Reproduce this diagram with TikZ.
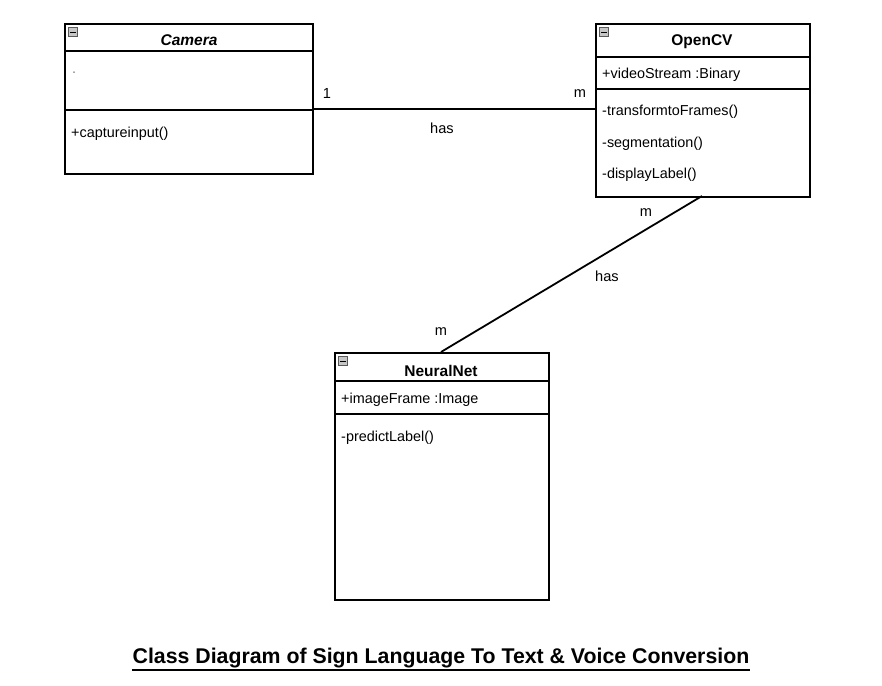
\documentclass[tikz,border=0pt]{standalone}
\usepackage{fontspec}
\setmainfont{Liberation Sans}
\begin{document}
\begin{tikzpicture}[x=1pt,y=-1pt,
  classbox/.style={draw=black,line width=2pt,fill=white,inner sep=0pt,anchor=north west},
  sep/.style={draw=black,line width=2pt},
  member/.style={anchor=west,inner sep=0pt,font=\fontsize{14.4}{17}\selectfont},
  cname/.style={inner sep=0pt,font=\fontsize{15.5}{18}\selectfont\bfseries},
  lbl/.style={inner sep=0pt,font=\fontsize{14.6}{17}\selectfont},
  conn/.style={draw=black,line width=1.8pt},
  mini/.style={draw=gray!70!black,fill=gray!45,line width=0.5pt,minimum size=9pt,inner sep=0pt}
]
\useasboundingbox (0,0) rectangle (882,685);
\fill[white] (0,0) rectangle (882,685);

% Camera
\node[classbox,minimum width=248pt,minimum height=150pt] (cam) at (64,23) {};
\draw[sep] (64,51) -- (312,51);
\draw[sep] (64,110) -- (312,110);
\node[mini] (camicon) at (73,32) {};
\draw[black,line width=0.7pt] (70,32) -- (76,32);
\node[cname,font=\fontsize{15.5}{18}\selectfont\bfseries\itshape] (camname) at (189,40.5) {Camera};
\node[member,text=gray] (camdot) at (72,73) {.};
\node[member] (camop) at (71,133.5) {+captureinput()};

% OpenCV
\node[classbox,minimum width=214pt,minimum height=173pt] (ocv) at (595,23) {};
\draw[sep] (595,57) -- (809,57);
\draw[sep] (595,89) -- (809,89);
\node[mini] (ocvicon) at (604,32) {};
\draw[black,line width=0.7pt] (601,32) -- (607,32);
\node[cname] (ocvname) at (702,41.5) {OpenCV};
\node[member] (ocva) at (602,74.5) {+videoStream :Binary};
\node[member] (ocvo1) at (602,111.5) {-transformtoFrames()};
\node[member] (ocvo2) at (602,143.5) {-segmentation()};
\node[member] (ocvo3) at (602,174.5) {-displayLabel()};

% NeuralNet
\node[classbox,minimum width=214pt,minimum height=247pt] (nn) at (334,352) {};
\draw[sep] (334,381) -- (548,381);
\draw[sep] (334,414) -- (548,414);
\node[mini] (nnicon) at (343,361) {};
\draw[black,line width=0.7pt] (340,361) -- (346,361);
\node[cname] (nnname) at (441,370.5) {NeuralNet};
\node[member] (nna) at (341,399.5) {+imageFrame :Image};
\node[member] (nno) at (341,437.5) {-predictLabel()};

% connectors
\coordinate (camR) at (312,109);
\coordinate (ocvL) at (595,109);
\draw[conn] (camR) -- (ocvL);
\coordinate (ocvB) at (702,196);
\coordinate (nnT) at (441,352);
\draw[conn] (ocvB) -- (nnT);

\node[lbl] (l1) at (327,93) {1};
\node[lbl] (l2) at (580,94) {m};
\node[lbl] (l3) at (442,128) {has};
\node[lbl] (l4) at (646,213) {m};
\node[lbl] (l5) at (607,276) {has};
\node[lbl] (l6) at (441,332) {m};

% title
\node[inner sep=0pt,font=\fontsize{21.3}{25}\selectfont\bfseries] (title) at (441,658) {Class Diagram of Sign Language To Text \& Voice Conversion};
\draw[black,line width=1.1pt] ([yshift=-1.8pt]title.south west) -- ([yshift=-1.8pt]title.south east);
\end{tikzpicture}
\end{document}
